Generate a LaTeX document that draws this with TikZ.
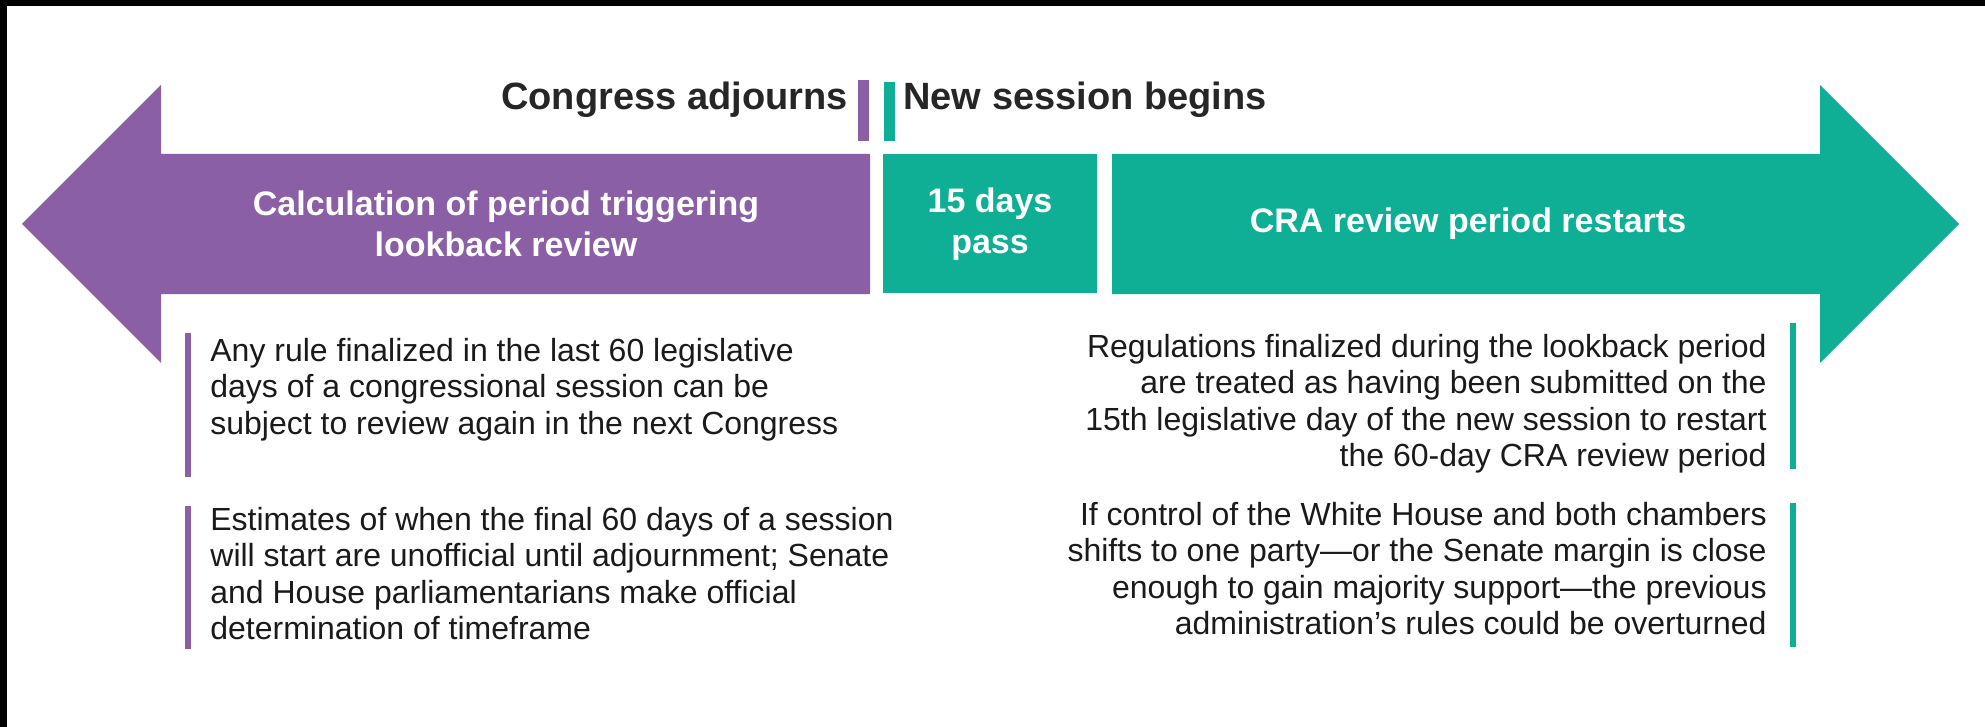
\documentclass[tikz,border=0pt]{standalone}
\usepackage{fontspec}
\setmainfont{Liberation Sans}
\definecolor{purp}{HTML}{8A5FA6}
\definecolor{tealc}{HTML}{0FAF96}
\definecolor{headc}{HTML}{262626}
\definecolor{bodyc}{HTML}{1A1A1A}
\begin{document}
\begin{tikzpicture}[x=0.5pt,y=-0.5pt,
  boxlabel/.style={text=white, font=\bfseries\fontsize{17}{20.5}\selectfont, align=center, inner sep=0pt},
  heading/.style={text=headc, font=\bfseries\fontsize{19}{22}\selectfont, inner sep=0pt},
  body/.style={text=bodyc, font=\fontsize{16}{18.3}\selectfont, inner sep=0pt},
  bar/.style={draw=none}]
\useasboundingbox (0,0) rectangle (1985,727);
\fill[white] (0,0) rectangle (1985,727);
\fill[black] (0,0) rectangle (1985,6);
\fill[black] (0,0) rectangle (7,727);
% arrows
\fill[purp] (22,224) -- (161,85) -- (161,154) -- (870,154) -- (870,294) -- (161,294) -- (161,363) -- cycle;
\fill[tealc] (883,154) rectangle (1097,293);
\fill[tealc] (1112,154) -- (1820,154) -- (1820,85) -- (1959,224) -- (1820,363) -- (1820,294) -- (1112,294) -- cycle;
% markers
\fill[purp] (858,80) rectangle (869,141);
\fill[tealc] (884,82) rectangle (895,141);
% headings
\node[heading, anchor=base east] (adj) at (848,110) {Congress adjourns};
\node[heading, anchor=base west] (news) at (903,110) {New session begins};
% box labels
\node[boxlabel] (calc) at (506,224) {Calculation of period triggering\\lookback review};
\node[boxlabel] (days) at (990,224) {15 days\\pass};
\node[boxlabel] (cra) at (1468,224) {CRA review period restarts};
% bars
\fill[purp] (185,333) rectangle (191,477);
\fill[purp] (185,506) rectangle (191,649);
\fill[tealc] (1790,323) rectangle (1796,469);
\fill[tealc] (1790,503) rectangle (1796,647);
% body texts
\node[body, anchor=base west] (l1) at (210,361) {\parbox[t]{380pt}{\raggedright Any rule finalized in the last 60 legislative\\days of a congressional session can be\\subject to review again in the next Congress}};
\node[body, anchor=base west] (l2) at (210,530) {\parbox[t]{380pt}{\raggedright Estimates of when the final 60 days of a session\\will start are unofficial until adjournment; Senate\\and House parliamentarians make official\\determination of timeframe}};
\node[body, anchor=base east] (r1) at (1767,357) {\parbox[t]{380pt}{\raggedleft Regulations finalized during the lookback period\\are treated as having been submitted on the\\15th legislative day of the new session to restart\\the 60-day CRA review period}};
\node[body, anchor=base east] (r2) at (1767,525) {\parbox[t]{380pt}{\raggedleft If control of the White House and both chambers\\shifts to one party—or the Senate margin is close\\enough to gain majority support—the previous\\administration’s rules could be overturned}};
\end{tikzpicture}
\end{document}
